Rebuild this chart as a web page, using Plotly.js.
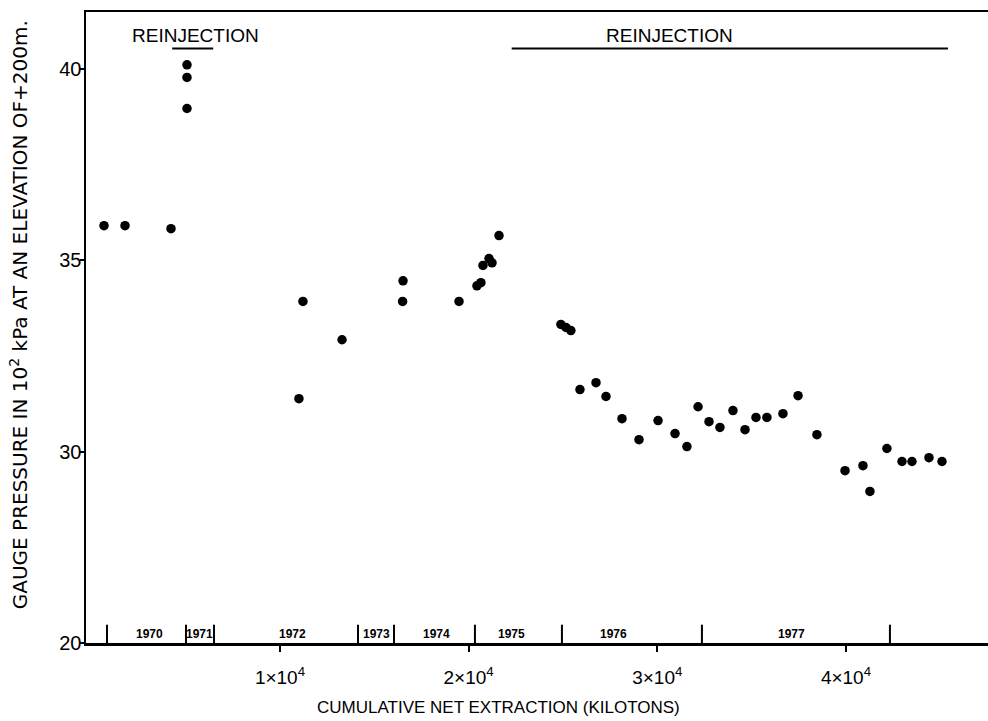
<!DOCTYPE html>
<html>
<head>
<meta charset="utf-8">
<script src="https://cdn.plot.ly/plotly-3.0.1.min.js"></script>
<style>html,body{margin:0;padding:0;background:#fff;}#chart{width:988px;height:721px;}</style>
</head>
<body>
<div id="chart"></div>
<script>
// Cumulative net extraction (kilotons)
var extraction = [673, 1786, 4224, 5072, 5072, 5072,
  11006, 11218, 13290, 16500, 16522, 19490, 20440, 20650, 20760, 21080, 21240, 21610,
  24890, 25160, 25420, 25900, 26750, 27280, 28130, 29030, 30040, 30940, 31570,
  32160, 32740, 33320, 34010, 34650, 35230, 35810, 36660, 37460, 38460,
  39950, 40900, 41270, 42170, 42970, 43500, 44400, 45090];
// Gauge pressure (10^2 kPa)
var pressure = [35.90, 35.90, 35.82, 40.10, 39.77, 38.96,
  31.38, 33.92, 32.92, 33.92, 34.46, 33.92, 34.33, 34.41, 34.86, 35.04, 34.93, 35.64,
  33.32, 33.24, 33.16, 31.62, 31.80, 31.44, 30.86, 30.31, 30.81, 30.47, 30.13,
  31.17, 30.78, 30.63, 31.07, 30.57, 30.89, 30.89, 30.99, 31.46, 30.44,
  29.50, 29.63, 28.96, 30.08, 29.74, 29.74, 29.84, 29.74];

var xTickVals = [10000, 20000, 30000, 40000];
var xTickText = ["1×10<sup>4</sup>", "2×10<sup>4</sup>", "3×10<sup>4</sup>", "4×10<sup>4</sup>"];
var yTickVals = [25, 30, 35, 40];
var yTickText = ["20", "30", "35", "40"];

var yearBoundaries = [832, 5019, 6503, 14136, 16044, 20334, 24945, 32365, 42330];
var yearLabels = ["1970", "1971", "1972", "1973", "1974", "1975", "1976", "1977"];
var yearLabelPos = [3058, 5761, 10638, 15090, 18270, 22298, 27652, 37139];

var reinjStart = [4288, 22282];
var reinjEnd = [6461, 45406];
var reinjLabelPos = [5505, 30620];
var reinjLabel = ["REINJECTION", "REINJECTION"];

var xTitle = "CUMULATIVE NET EXTRACTION (KILOTONS)";
var yTitle = "GAUGE PRESSURE IN 10<sup>2</sup> kPa AT AN ELEVATION OF+200m.";

var FONT = "Liberation Sans, Arial, sans-serif";
var WIDE = "DejaVu Sans, Liberation Sans, sans-serif";

var shapes = [];
var annotations = [];
yearBoundaries.forEach(function (b) {
  shapes.push({type: "line", xref: "x", yref: "paper", x0: b, x1: b, y0: 0, y1: 0.029,
    line: {color: "#000", width: 2}});
});
yearLabels.forEach(function (t, i) {
  annotations.push({x: yearLabelPos[i], y: 0.015, xref: "x", yref: "paper", text: "<b>" + t + "</b>",
    showarrow: false, yanchor: "middle", font: {family: FONT, size: 12, color: "#000"}});
});
reinjStart.forEach(function (s, i) {
  shapes.push({type: "line", xref: "x", yref: "paper", x0: s, x1: reinjEnd[i], y0: 0.942, y1: 0.942,
    line: {color: "#000", width: 2}});
  annotations.push({x: reinjLabelPos[i], y: 0.962, xref: "x", yref: "paper", text: reinjLabel[i],
    showarrow: false, yanchor: "middle", font: {family: FONT, size: 19, color: "#000"}});
});
annotations.push({x: 0.457, y: -0.103, xref: "paper", yref: "paper", text: xTitle,
  showarrow: false, xanchor: "center", yanchor: "middle", font: {family: FONT, size: 17, color: "#000"}});
annotations.push({x: -0.0743, y: 0.521, xref: "paper", yref: "paper", text: yTitle, textangle: -90,
  showarrow: false, xanchor: "center", yanchor: "middle", font: {family: WIDE, size: 20, color: "#000"}});

var trace = {
  x: extraction, y: pressure, type: "scatter", mode: "markers",
  marker: {color: "#000", size: 9.5}, hoverinfo: "x+y"
};

var layout = {
  width: 988, height: 721,
  margin: {l: 86, r: 0, t: 12, b: 78},
  paper_bgcolor: "#fff", plot_bgcolor: "#fff",
  showlegend: false,
  font: {family: FONT, color: "#000"},
  xaxis: {
    range: [-281, 47528], showgrid: false, zeroline: false,
    showline: true, linecolor: "#000", linewidth: 2.5, mirror: true,
    ticks: "outside", ticklen: 6, tickwidth: 2, tickcolor: "#000",
    tickvals: xTickVals, ticktext: xTickText, ticklabelstandoff: 10,
    tickfont: {family: FONT, size: 19}
  },
  yaxis: {
    range: [25, 41.48], showgrid: false, zeroline: false,
    showline: true, linecolor: "#000", linewidth: 2.5,
    ticks: "outside", ticklen: 4, tickwidth: 2, tickcolor: "#000",
    tickvals: yTickVals, ticktext: yTickText, ticklabelstandoff: -6,
    tickfont: {family: FONT, size: 20}
  },
  shapes: shapes,
  annotations: annotations
};

Plotly.newPlot("chart", [trace], layout, {displayModeBar: false, staticPlot: true});
</script>
</body>
</html>
